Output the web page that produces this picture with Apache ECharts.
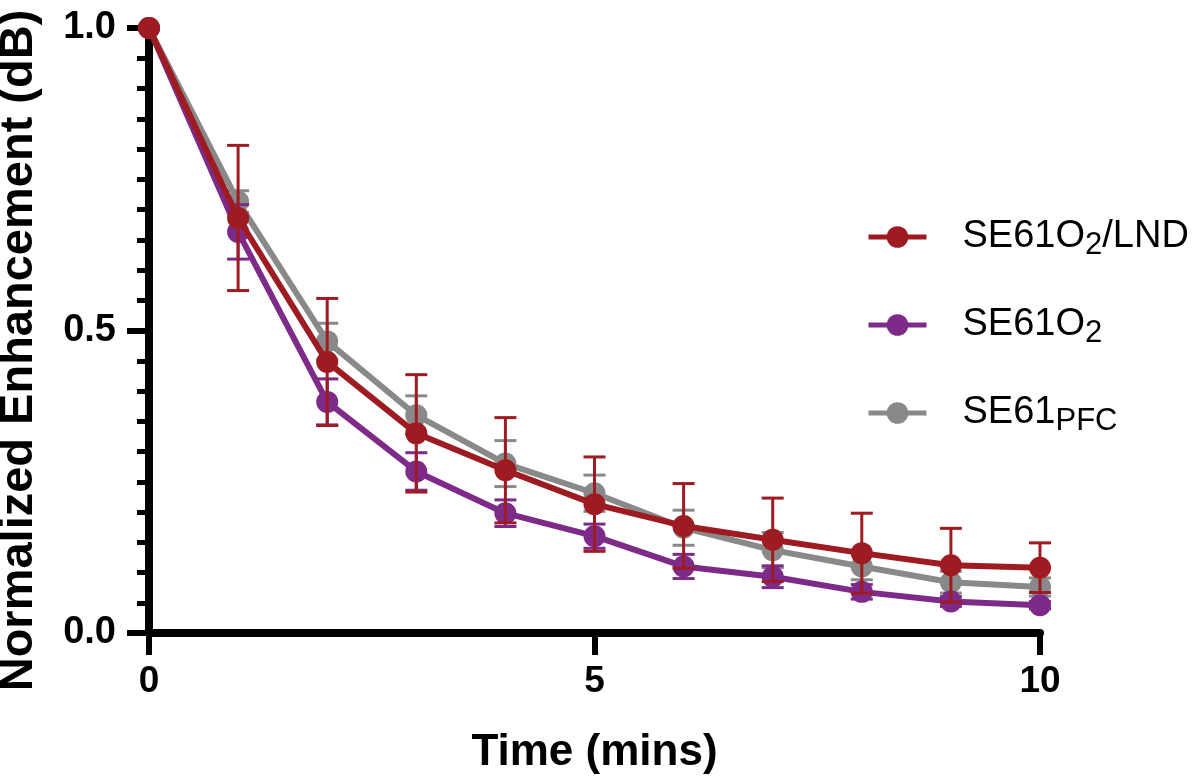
<!DOCTYPE html>
<html>
<head>
<meta charset="utf-8">
<script src="https://cdn.jsdelivr.net/npm/echarts@6/dist/echarts.min.js"></script>
<style>
  html, body { margin: 0; padding: 0; background: #fff; }
  #chart { width: 1200px; height: 777px; }
</style>
</head>
<body>
<div id="chart"></div>
<script>
// ---- data ----
const time = [0, 1, 2, 3, 4, 5, 6, 7, 8, 9, 10];
const lndMean = [1.0, 0.686, 0.448, 0.330, 0.269, 0.213, 0.177, 0.154, 0.132, 0.112, 0.108];
const lndErr  = [0, 0.120, 0.105, 0.097, 0.087, 0.078, 0.070, 0.069, 0.066, 0.061, 0.041];
const o2Mean  = [1.0, 0.663, 0.382, 0.267, 0.198, 0.160, 0.110, 0.093, 0.068, 0.052, 0.046];
const o2Err   = [0, 0.045, 0.038, 0.031, 0.022, 0.020, 0.020, 0.018, 0.012, 0.008, 0.006];
const pfcMean = [1.0, 0.713, 0.482, 0.360, 0.280, 0.231, 0.174, 0.137, 0.110, 0.084, 0.076];
const pfcErr  = [0, 0.018, 0.030, 0.032, 0.038, 0.030, 0.029, 0.029, 0.022, 0.018, 0.015];
const seriesNames = ['SE61O2/LND', 'SE61O2', 'SE61PFC'];
const legendLabels = {
  'SE61O2/LND': '{n|SE61O}{s|2}{n|/LND}',
  'SE61O2': '{n|SE61O}{s|2}',
  'SE61PFC': '{n|SE61}{s|PFC}'
};
const xTicks = [0, 5, 10];
const yTicks = [0, 0.5, 1.0];

const colors = { lnd: '#9E1B22', o2: '#7D2A89', pfc: '#898989' };
const FONT = '"Liberation Sans", Arial, Helvetica, sans-serif';

function errRenderer(color) {
  return function (params, api) {
    const x = api.value(0), y = api.value(1), e = api.value(2);
    if (!e) return null;
    const top = api.coord([x, y + e]);
    const bot = api.coord([x, y - e]);
    const hw = 11;
    const st = { stroke: color, lineWidth: 3 };
    return {
      type: 'group',
      children: [
        { type: 'line', shape: { x1: top[0], y1: top[1], x2: bot[0], y2: bot[1] }, style: st },
        { type: 'line', shape: { x1: top[0] - hw, y1: top[1], x2: top[0] + hw, y2: top[1] }, style: st },
        { type: 'line', shape: { x1: bot[0] - hw, y1: bot[1], x2: bot[0] + hw, y2: bot[1] }, style: st }
      ]
    };
  };
}
function zip(m, e) { return time.map((t, i) => [t, m[i], e[i]]); }
function pts(m) { return time.map((t, i) => [t, m[i]]); }

function lineSeries(name, data, color, z) {
  return {
    name: name, type: 'line', data: pts(data), z: z,
    symbol: 'circle', symbolSize: 22, clip: false,
    lineStyle: { color: color, width: 6 },
    itemStyle: { color: color },
    emphasis: { disabled: true },
    animation: false
  };
}
function errSeries(name, m, e, color, z) {
  return {
    name: name, type: 'custom', data: zip(m, e), z: z,
    renderItem: errRenderer(color), encode: { x: 0, y: 1 },
    clip: false, animation: false, silent: true
  };
}

const chart = echarts.init(document.getElementById('chart'), null, { renderer: 'canvas' });
chart.setOption({
  backgroundColor: '#ffffff',
  animation: false,
  grid: { left: 149, right: 160, top: 28, bottom: 144, containLabel: false, outerBoundsMode: 'none' },
  xAxis: {
    type: 'value', min: 0, max: 10, interval: 5,
    name: 'Time (mins)', nameLocation: 'middle', nameGap: 98,
    nameTextStyle: { fontFamily: FONT, fontWeight: 'bold', fontSize: 44, color: '#000' },
    axisLine: { show: true, lineStyle: { color: '#000', width: 8 } },
    axisTick: { show: true, inside: false, length: 22, lineStyle: { color: '#000', width: 6 } },
    axisLabel: {
      margin: 30, fontFamily: FONT, fontWeight: 'bold', fontSize: 37, color: '#000',
      formatter: v => xTicks.includes(v) ? String(v) : ''
    },
    splitLine: { show: false }
  },
  yAxis: {
    type: 'value', min: 0, max: 1, interval: 0.5,
    name: 'Normalized Enhancement (dB)', nameLocation: 'middle', nameGap: 106, nameRotate: 90,
    nameTextStyle: { fontFamily: FONT, fontWeight: 'bold', fontSize: 47, color: '#000', padding: [0, 40, 0, 0] },
    axisLine: { show: true, lineStyle: { color: '#000', width: 8 } },
    axisTick: { show: true, inside: false, length: 22, lineStyle: { color: '#000', width: 6 } },
    minorTick: { show: true, splitNumber: 10, length: 12, lineStyle: { color: '#000', width: 5 } },
    axisLabel: {
      margin: 33, fontFamily: FONT, fontWeight: 'bold', fontSize: 38, color: '#000',
      formatter: v => yTicks.some(t => Math.abs(t - v) < 1e-9) ? v.toFixed(1) : ''
    },
    splitLine: { show: false }, minorSplitLine: { show: false }
  },
  legend: {
    data: seriesNames,
    orient: 'vertical', left: 866, top: 213, padding: 0,
    itemWidth: 58, itemHeight: 27, itemGap: 40,
    selectedMode: false,
    lineStyle: { width: 5 },
    formatter: name => legendLabels[name],
    textStyle: {
      fontFamily: FONT, fontSize: 38, color: '#000', padding: [0, 0, 0, 31],
      rich: {
        n: { fontFamily: FONT, fontSize: 38, color: '#000', lineHeight: 44 },
        s: { fontFamily: FONT, fontSize: 31, color: '#000', lineHeight: 27, padding: [17, 0, 0, 0] }
      }
    }
  },
  series: [
    lineSeries('SE61PFC', pfcMean, colors.pfc, 2),
    errSeries('err-pfc', pfcMean, pfcErr, colors.pfc, 2),
    lineSeries('SE61O2', o2Mean, colors.o2, 3),
    errSeries('err-o2', o2Mean, o2Err, colors.o2, 3),
    lineSeries('SE61O2/LND', lndMean, colors.lnd, 4),
    errSeries('err-lnd', lndMean, lndErr, colors.lnd, 4)
  ]
});
</script>
</body>
</html>
